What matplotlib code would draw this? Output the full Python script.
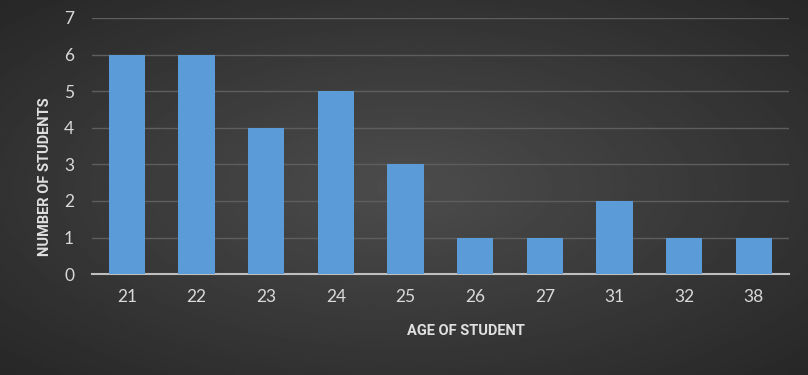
import matplotlib.pyplot as plt
import numpy as np

ages = ['21', '22', '23', '24', '25', '26', '27', '31', '32', '38']
students = [6, 6, 4, 5, 3, 1, 1, 2, 1, 1]

plt.rcParams['font.family'] = ['Lato', 'DejaVu Sans']

fig = plt.figure(figsize=(8.08, 3.75), dpi=100)

# radial gradient background
bg = fig.add_axes([0, 0, 1, 1], zorder=-10)
yy, xx = np.mgrid[-1:1:200j, -1:1:400j]
r = np.sqrt((xx * 0.9) ** 2 + (yy * 0.9) ** 2)
shade = 0.30 - 0.15 * np.clip(r, 0, 1.3) / 1.3
bg.imshow(shade, cmap='gray', vmin=0, vmax=1, aspect='auto', extent=[0, 1, 0, 1])
bg.axis('off')

ax = fig.add_axes([0.114, 0.269, 0.862, 0.683])
ax.patch.set_alpha(0)
x = np.arange(len(ages))
ax.bar(x, students, width=0.52, color='#5b9bd8', zorder=3)

ax.set_xlim(-0.5, len(ages) - 0.5)
ax.set_ylim(0, 7)
ax.set_yticks(range(8))
ax.set_xticks(x)
ax.set_xticklabels(ages)
ax.grid(axis='y', color='#5e5e5e', linewidth=1, zorder=0)
for s in ['top', 'right', 'left']:
    ax.spines[s].set_visible(False)
ax.spines['bottom'].set_color('#bfbfbf')
ax.spines['bottom'].set_linewidth(1.5)
ax.tick_params(length=0, colors='#d9d9d9', labelsize=12.5)
ax.tick_params(axis='x', pad=11)
ax.tick_params(axis='y', pad=13)

# axis titles (Excel put them a bit off-centre)
lab = dict(color='#e0e0e0', fontsize=10.5, fontweight='bold',
           family=['Roboto', 'DejaVu Sans'], ha='center', va='center')
fig.text(466 / 808, 1 - 331 / 375, 'AGE OF STUDENT', **lab)
fig.text(45 / 808, 1 - 177 / 375, 'NUMBER OF STUDENTS', rotation=90, **lab)

fig.savefig('out.png', dpi=100)
